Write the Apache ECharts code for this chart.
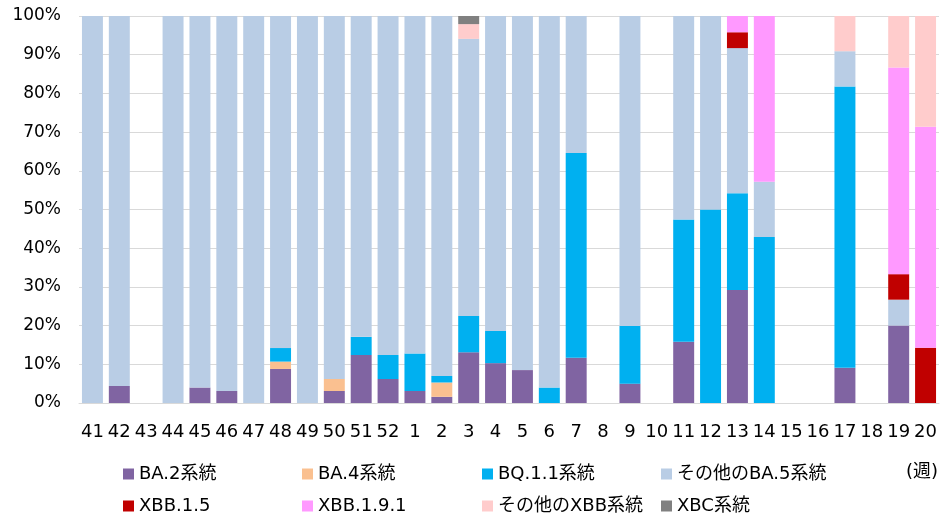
<!DOCTYPE html>
<html>
<head>
<meta charset="utf-8">
<script src="https://cdn.jsdelivr.net/npm/echarts@6/dist/echarts.min.js"></script>
<style>
  html, body { margin: 0; padding: 0; background: #fff; }
  #chart { width: 941px; height: 519px; }
</style>
</head>
<body>
<div id="chart"></div>
<script>
// Week numbers (2022 w41 – 2023 w20)
const weeks = ['41','42','43','44','45','46','47','48','49','50','51','52',
  '1','2','3','4','5','6','7','8','9','10','11','12','13','14','15','16','17','18','19','20'];

// Share of each lineage per week (%)
const ba2 = [0,4.4,0,0,4.0,3.1,0,8.8,0,3.1,12.4,6.2,3.1,1.6,13.1,10.3,8.5,0,11.7,0,5.0,0,15.8,0,29.2,0,0,0,9.1,0,20.0,0];
const ba4 = [0,0,0,0,0,0,0,1.9,0,3.1,0,0,0,3.7,0,0,0,0,0,0,0,0,0,0,0,0,0,0,0,0,0,0];
const bq11 = [0,0,0,0,0,0,0,3.5,0,0,4.7,6.2,9.7,1.7,9.4,8.3,0,4.0,52.9,0,14.9,0,31.6,50.0,25.0,42.9,0,0,72.7,0,0,0];
const ba5Other = [100,95.6,0,100,96.0,96.9,100,85.8,100,93.8,82.9,87.6,87.2,93.0,71.6,81.4,91.5,96.0,35.4,0,80.1,0,52.6,50.0,37.5,14.3,0,0,9.1,0,6.7,0];
const xbb15 = [0,0,0,0,0,0,0,0,0,0,0,0,0,0,0,0,0,0,0,0,0,0,0,0,4.1,0,0,0,0,0,6.6,14.3];
const xbb191 = [0,0,0,0,0,0,0,0,0,0,0,0,0,0,0,0,0,0,0,0,0,0,0,0,4.2,42.8,0,0,0,0,53.4,57.1];
const xbbOther = [0,0,0,0,0,0,0,0,0,0,0,0,0,0,3.8,0,0,0,0,0,0,0,0,0,0,0,0,0,9.1,0,13.3,28.6];
const xbc = [0,0,0,0,0,0,0,0,0,0,0,0,0,0,2.1,0,0,0,0,0,0,0,0,0,0,0,0,0,0,0,0,0];

const seriesNames = ['BA.2系統','BA.4系統','BQ.1.1系統','その他のBA.5系統','XBB.1.5','XBB.1.9.1','その他のXBB系統','XBC系統'];
const seriesData = [ba2, ba4, bq11, ba5Other, xbb15, xbb191, xbbOther, xbc];
const colors = ['#8064A2','#FAC090','#00B0F0','#B9CDE5','#C00000','#FF99FF','#FFCCCC','#808080'];

const FONT = '"DejaVu Sans", "Noto Sans CJK JP", sans-serif';

// Legend: 2 rows x 4 columns, one legend component per entry
const colLeft = [123, 302, 482, 661];
const rowTop = [464, 496];
const legends = seriesNames.map((name, i) => ({
  data: [name],
  left: colLeft[i % 4],
  top: rowTop[Math.floor(i / 4)],
  icon: 'rect',
  itemWidth: 11,
  itemHeight: 11,
  padding: 0,
  selectedMode: false,
  textStyle: { fontFamily: FONT, fontSize: 18, color: '#000', lineHeight: 20 }
}));

const chart = echarts.init(document.getElementById('chart'), null, { renderer: 'canvas' });
chart.setOption({
  animation: false,
  color: colors,
  grid: { left: 79, right: 2, top: 16, bottom: 116 },
  legend: legends,
  xAxis: {
    type: 'category',
    data: weeks,
    axisTick: { show: false },
    axisLine: { lineStyle: { color: '#d9d9d9', width: 1 } },
    axisLabel: { fontFamily: FONT, fontSize: 18, color: '#000', margin: 20, interval: 0 }
  },
  yAxis: {
    type: 'value',
    min: 0, max: 100, interval: 10,
    axisLine: { show: false },
    axisTick: { show: false },
    splitLine: { lineStyle: { color: '#d9d9d9', width: 1 } },
    axisLabel: { fontFamily: FONT, fontSize: 17, color: '#000', margin: 18, formatter: '{value}%' }
  },
  series: seriesNames.map((name, i) => ({
    name: name,
    type: 'bar',
    stack: 'share',
    barCategoryGap: '22%',
    data: seriesData[i],
    itemStyle: { color: colors[i] }
  })),
  graphic: [{
    type: 'text',
    right: 3,
    top: 463,
    style: { text: '(週)', font: '18px ' + FONT, fill: '#000' }
  }]
});
</script>
</body>
</html>
